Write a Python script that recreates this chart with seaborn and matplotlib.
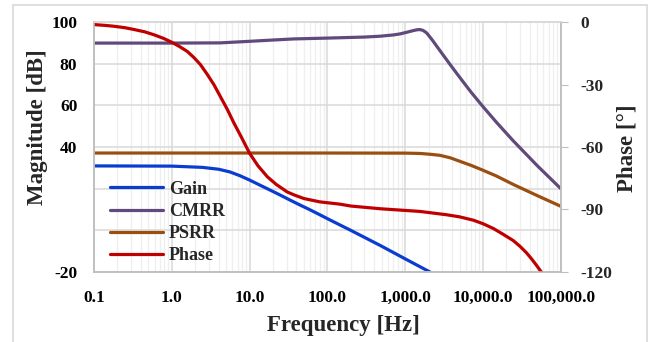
import numpy as np
import pandas as pd
import matplotlib
matplotlib.use('Agg')
import matplotlib.pyplot as plt
from matplotlib.patches import Rectangle
from matplotlib.lines import Line2D
import seaborn as sns

# values (frequency in Hz)
gain_f = [0.1, 1, 2.47, 4, 5.6, 7.5, 10, 13.5, 18.3, 25, 33, 45, 59.7, 80, 108, 145, 200, 474, 1000, 2300]
gain_db = [30.9, 30.8, 30.2, 29.3, 28.0, 26.2, 24.1, 21.7, 19.3, 16.8, 14.5, 12.0, 9.8, 7.4, 4.9, 2.5, -0.1, -7.3, -13.8, -21.0]

cmrr_f = [0.1, 1, 4.2, 10, 20.6, 37, 100, 300, 474, 700, 857, 1050, 1270, 1420, 1550, 1700, 1889, 2200, 2800, 3800,
          5060, 7000, 9620, 15000, 24500, 50000, 100000]
cmrr_db = [90.0, 90.0, 90.1, 90.85, 91.5, 92.0, 92.4, 92.9, 93.3, 93.9, 94.4, 95.2, 96.0, 96.4, 96.5, 96.1, 94.9, 91.8,
           86.4, 79.6, 73.4, 66.5, 60.2, 51.8, 43.0, 31.0, 20.0]

psrr_f = [0.1, 100, 1000, 1550, 2100, 2800, 3800, 5060, 7000, 9620, 15000, 24500, 50000, 100000]
psrr_db = [37.1, 37.1, 37.05, 36.9, 36.5, 36.0, 34.8, 33.1, 31.2, 29.1, 26.0, 22.0, 16.6, 11.5]

phase_f = [0.1, 0.14, 0.18, 0.25, 0.33, 0.45, 0.59, 0.78, 1.0, 1.25, 1.58, 1.93, 2.34, 2.85, 3.48, 4.25,
           5.19, 6.3, 7.76, 10, 12.8, 16.9, 22, 30.4, 37, 50, 80, 145, 200, 474, 1550, 3410, 5000, 7510, 10000,
           13600, 18000, 24500, 30000, 36500, 43000, 49000, 54000, 59700]
phase_deg = [-1.1, -1.5, -1.9, -2.6, -3.5, -4.6, -6.0, -7.7, -9.6, -11.6, -14.0, -17.0, -20.4, -25.0, -30.0, -36.0,
             -42.0, -48.5, -54.9, -63.0, -69.0, -74.3, -78.0, -81.6, -83.0, -84.8, -86.4, -87.5, -88.4, -89.7, -91.0,
             -92.6, -93.6, -95.2, -96.9, -99.2, -101.9, -105.0, -107.8, -111.0, -114.2, -117.0, -119.2, -121.4]

x_ticks = [0.1, 1, 10, 100, 1000, 10000, 100000]
x_labels = ['0.1', '1.0', '10.0', '100.0', '1,000.0', '10,000.0', '100,000.0']
mag_ticks = [-20, 0, 20, 40, 60, 80, 100]
mag_labels = ['-20', '', '', '40', '60', '80', '100']
phase_ticks = [-120, -90, -60, -30, 0]
phase_labels = ['-120', '-90', '-60', '-30', '0']

names = ['Gain', 'CMRR', 'PSRR', 'Phase']
colors = ['#0A3CD2', '#604A7B', '#9A4E10', '#C00000']

sns.set_style('white')
plt.rcParams['font.family'] = ['Liberation Serif', 'DejaVu Serif']
plt.rcParams['font.weight'] = 'bold'
plt.rcParams['axes.unicode_minus'] = False

fig = plt.figure(figsize=(6.55, 3.42), dpi=100)
# light frame round the whole chart
fig.patches.append(Rectangle((13 / 655, -0.1), 634 / 655, 1.1 - 5 / 342, transform=fig.transFigure,
                             fill=False, edgecolor='#D9D9D9', lw=1.2))
ax = fig.add_axes([94 / 655, 1 - 271.7 / 342, 466.7 / 655, 249.4 / 342])
ax.set_facecolor('none')
ax2 = ax.twinx()

lw = 2.3
sns.lineplot(x=gain_f, y=gain_db, ax=ax, color=colors[0], lw=lw, legend=False)
sns.lineplot(x=cmrr_f, y=cmrr_db, ax=ax, color=colors[1], lw=lw, legend=False)
sns.lineplot(x=psrr_f, y=psrr_db, ax=ax, color=colors[2], lw=lw, legend=False)
sns.lineplot(x=phase_f, y=phase_deg, ax=ax2, color=colors[3], lw=lw, legend=False)

ax.set_xscale('log')
ax.set_xlim(0.1, 100000)
ax.set_ylim(-20, 100)
ax2.set_ylim(-120, 0)

ax.set_xticks(x_ticks)
ax.set_xticklabels(x_labels)
ax.xaxis.set_minor_locator(matplotlib.ticker.LogLocator(base=10, subs=np.arange(2, 10)))
ax.xaxis.set_minor_formatter(matplotlib.ticker.NullFormatter())
ax.set_yticks(mag_ticks)
ax.set_yticklabels(mag_labels)
ax2.set_yticks(phase_ticks)
ax2.set_yticklabels(phase_labels)

ax.grid(which='major', color='#D9D9D9', lw=1.1)
ax.grid(which='minor', axis='x', color='#EFEFEF', lw=0.9)
ax2.grid(False)

ax.tick_params(which='both', length=0, labelsize=12.5, colors='black')
ax.tick_params(axis='x', pad=13)
ax.tick_params(axis='y', pad=12)
ax2.tick_params(axis='y', direction='out', length=5, color='#BFBFBF', labelsize=12.5, pad=9)

for a in (ax, ax2):
    for s in a.spines.values():
        s.set_color('#BFBFBF')
        s.set_linewidth(1.1)
    a.spines['top'].set_color('#D9D9D9')

ax.set_xlabel('Frequency [Hz]', fontsize=16.5, fontweight='bold')
ax.set_ylabel('Magnitude [dB]', fontsize=16.5, fontweight='bold')
ax2.set_ylabel('Phase [°]', fontsize=16.5, fontweight='bold')
ax.xaxis.set_label_coords(0.534, -0.172)
ax.yaxis.set_label_coords(-0.098, 0.578)
ax2.yaxis.set_label_coords(1.119, 0.495)

handles = [Line2D([], [], color=c, lw=lw) for c in colors]
ax.legend(handles, names, loc='lower left', bbox_to_anchor=(0.0, -0.036), frameon=False,
          handlelength=2.9, handletextpad=0.35, labelspacing=0.29,
          prop={'weight': 'bold', 'size': 13})

fig.savefig('out.png', dpi=100)
